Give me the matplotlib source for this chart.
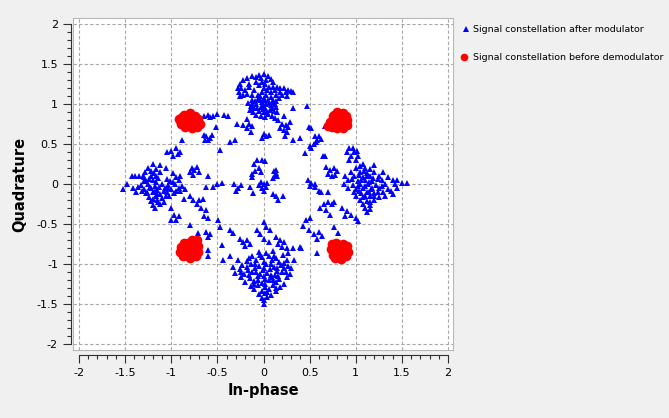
import numpy as np
import matplotlib.pyplot as plt
from matplotlib.lines import Line2D
from matplotlib.ticker import MultipleLocator, FuncFormatter

W, H = 669, 418

# blue points: constellation after modulator
blue_top = [
    (-0.28, 1.20), (-0.27, 1.15), (-0.25, 1.25), (-0.22, 1.30), (-0.18, 1.33), (-0.13, 1.35),
    (-0.08, 1.34), (-0.03, 1.33), (0.00, 1.38), (-0.05, 1.37), (0.03, 1.30), (0.02, 1.25),
    (0.00, 1.20), (-0.02, 1.15), (-0.06, 1.12), (-0.12, 1.12), (-0.18, 1.13), (-0.22, 1.12),
    (-0.25, 1.10), (-0.20, 1.18), (-0.16, 1.26), (-0.08, 1.28),
    (0.05, 1.35), (0.08, 1.32), (0.10, 1.28), (0.06, 1.22), (0.12, 1.18), (0.15, 1.22),
    (0.18, 1.16), (0.20, 1.12), (0.24, 1.15), (0.27, 1.18), (0.30, 1.17), (0.32, 1.15),
    (0.22, 1.20), (0.14, 1.12), (0.08, 1.15), (0.17, 1.08), (0.10, 1.05),
    (-0.17, 1.02), (-0.14, 0.98), (-0.12, 1.05), (-0.10, 0.95), (-0.08, 1.00), (-0.06, 1.07),
    (-0.05, 0.92), (-0.03, 0.97), (-0.02, 1.03), (0.00, 1.08), (0.00, 0.90), (0.02, 0.95),
    (0.03, 1.01), (0.05, 1.06), (0.05, 0.88), (0.07, 0.93), (0.08, 0.99), (0.10, 1.03),
    (0.11, 0.92), (0.13, 0.97), (-0.08, 0.87), (-0.03, 0.85), (0.02, 0.84), (-0.11, 0.90),
    (0.09, 0.86), (-0.15, 0.93), (0.14, 1.04), (-0.04, 1.10), (0.03, 1.12),
    (-0.13, 1.01), (-0.09, 1.04), (-0.01, 0.99), (0.06, 1.02), (0.12, 1.00), (-0.07, 0.96),
    (0.04, 0.91), (-0.01, 0.94), (0.09, 0.96), (-0.12, 0.95), (-0.04, 1.05), (0.01, 1.05),
    (-0.16, 1.22), (-0.10, 1.18), (-0.24, 1.20), (-0.05, 1.24), (0.04, 1.18), (0.10, 1.22),
    (0.18, 1.20), (0.25, 1.11), (-0.02, 1.28), (0.08, 1.09),
    (-0.18, 0.82), (-0.16, 0.75), (-0.13, 0.73), (-0.18, 0.70), (-0.14, 0.66), (-0.22, 0.74),
    (0.00, 0.63), (0.03, 0.60), (-0.02, 0.58), (0.06, 0.62), (0.12, 0.83), (0.16, 0.80),
    (0.20, 0.76), (0.24, 0.74), (0.18, 0.70), (0.22, 0.68), (0.27, 0.72), (0.29, 0.78),
    (0.25, 0.65), (0.23, 0.60), (0.32, 0.56), (0.22, 0.86), (0.15, 0.90),
]

blue_bottom = [
    (-0.05, -0.84), (0.03, -0.86), (0.10, -0.83),
    (-0.12, -0.90), (-0.02, -0.91), (0.06, -0.89), (0.14, -0.92), (0.21, -0.88),
    (-0.18, -0.96), (-0.08, -0.95), (0.01, -0.97), (0.09, -0.94), (0.17, -0.97), (0.25, -0.95),
    (-0.23, -1.01), (-0.14, -1.00), (-0.05, -1.02), (0.03, -1.00), (0.11, -1.03), (0.19, -1.01),
    (0.27, -1.02), (-0.26, -1.06), (-0.17, -1.07), (-0.09, -1.05), (-0.01, -1.07), (0.07, -1.06),
    (0.15, -1.08), (0.22, -1.05), (-0.31, -1.11), (-0.21, -1.12), (-0.12, -1.10), (-0.04, -1.12),
    (0.04, -1.11), (0.12, -1.13), (0.20, -1.10), (0.29, -1.12), (-0.24, -1.16), (-0.15, -1.17),
    (-0.06, -1.15), (0.02, -1.18), (0.09, -1.16), (0.17, -1.18), (0.25, -1.16),
    (-0.20, -1.22), (-0.10, -1.21), (-0.02, -1.23), (0.06, -1.20), (0.14, -1.22), (0.22, -1.24),
    (-0.14, -1.27), (-0.06, -1.26), (0.02, -1.28), (0.10, -1.26), (0.18, -1.28),
    (-0.10, -1.31), (-0.02, -1.33), (0.06, -1.31), (0.13, -1.33),
    (-0.05, -1.37), (0.02, -1.36), (0.08, -1.38), (-0.02, -1.42), (0.04, -1.41),
    (0.00, -1.45), (0.00, -1.50),
    (-0.09, -0.99), (0.00, -1.04), (0.08, -1.00), (0.15, -1.04), (-0.18, -1.03), (-0.08, -1.09),
    (0.00, -1.14), (0.08, -1.13), (0.16, -1.14), (-0.16, -1.13), (-0.06, -1.19), (0.10, -1.19),
    (0.02, -1.24), (-0.10, -1.25), (0.14, -1.30), (-0.04, -0.88), (0.11, -0.90), (0.22, -0.98),
    (-0.24, -1.09), (0.04, -1.34), (0.24, -1.09),
    (-0.07, -0.57), (0.01, -0.47), (0.07, -0.57), (0.03, -0.53), (-0.04, -0.62), (0.00, -0.68),
    (0.06, -0.72), (-0.25, -0.68), (-0.22, -0.72), (-0.18, -0.70), (-0.20, -0.77), (-0.15, -0.75),
    (-0.16, -0.92), (0.14, -0.66), (0.18, -0.70), (0.16, -0.74), (0.22, -0.72), (0.20, -0.78),
    (0.25, -0.80), (0.27, -0.86), (0.32, -0.80), (0.40, -0.78), (-0.33, -1.03), (-0.28, -0.95),
    (0.30, -1.05), (0.33, -0.95),
]

blue_left = [
    (-1.52, -0.06), (-1.48, 0.01), (-1.43, 0.10), (-1.39, 0.10), (-1.35, 0.10), (-1.31, 0.10),
    (-1.41, -0.05), (-1.36, -0.03), (-1.32, -0.08), (-1.38, -0.10),
    (-1.20, 0.26), (-1.12, 0.24), (-1.25, 0.20), (-1.16, 0.19), (-1.06, 0.21),
    (-1.28, 0.15), (-1.19, 0.14), (-1.12, 0.16), (-0.98, 0.14),
    (-1.30, 0.09), (-1.22, 0.10), (-1.14, 0.08), (-0.95, 0.09), (-0.90, 0.11),
    (-1.27, 0.04), (-1.20, 0.05), (-1.01, 0.04), (-0.92, 0.05),
    (-1.33, -0.01), (-1.25, 0.00), (-1.18, -0.02), (-1.10, 0.01), (-1.03, -0.01), (-0.96, 0.00),
    (-0.88, -0.02), (-1.29, -0.06), (-1.22, -0.05), (-1.15, -0.07), (-1.07, -0.05), (-1.00, -0.06),
    (-0.92, -0.04), (-0.85, -0.06), (-1.27, -0.11), (-1.20, -0.10), (-1.12, -0.12), (-1.05, -0.10),
    (-0.97, -0.11), (-1.24, -0.16), (-1.17, -0.15), (-1.10, -0.17), (-1.02, -0.15),
    (-1.22, -0.21), (-1.15, -0.20), (-1.08, -0.22), (-1.20, -0.26), (-1.12, -0.25), (-1.18, -0.30),
    (-1.24, 0.07), (-1.16, 0.03), (-1.05, 0.07), (-0.98, 0.03), (-1.23, -0.03), (-1.13, -0.03),
    (-1.04, -0.04), (-0.95, -0.08), (-1.18, -0.08), (-1.08, -0.08), (-1.15, -0.12), (-1.06, -0.14),
    (-1.20, -0.18), (-1.14, -0.22), (-1.22, 0.17), (-1.16, 0.11), (-1.30, 0.04), (-1.26, -0.09),
    (-0.90, -0.08),
]

blue_right = [
    (0.93, 0.45), (0.97, 0.46), (0.90, 0.40), (0.98, 0.40), (1.01, 0.42), (0.95, 0.35),
    (1.02, 0.36), (0.93, 0.30), (1.00, 0.31), (1.08, 0.26), (1.20, 0.24),
    (1.00, 0.20), (1.10, 0.21), (1.15, 0.19), (0.95, 0.15), (1.05, 0.16), (1.12, 0.14),
    (1.20, 0.15), (1.30, 0.16), (0.88, 0.10), (0.98, 0.11), (1.08, 0.09), (1.15, 0.10),
    (1.25, 0.11), (1.35, 0.09), (0.92, 0.05), (1.02, 0.04), (1.10, 0.06), (1.18, 0.04),
    (1.28, 0.05), (1.40, 0.05), (1.45, 0.06), (0.87, 0.00), (0.97, -0.01), (1.05, 0.01),
    (1.13, 0.00), (1.22, -0.01), (1.32, 0.01), (1.42, 0.00), (1.50, 0.02), (1.55, 0.02),
    (0.92, -0.05), (1.00, -0.06), (1.08, -0.04), (1.16, -0.06), (1.25, -0.05), (1.35, -0.06),
    (1.45, -0.04), (0.98, -0.10), (1.06, -0.11), (1.12, -0.09), (1.20, -0.11), (1.30, -0.10),
    (1.40, -0.12), (1.00, -0.15), (1.08, -0.16), (1.15, -0.14), (1.25, -0.16), (1.32, -0.15),
    (1.05, -0.20), (1.12, -0.21), (1.20, -0.19), (1.08, -0.25), (1.15, -0.26), (1.10, -0.30),
    (1.15, -0.31), (1.12, -0.35),
    (1.03, 0.12), (1.12, 0.11), (1.19, 0.08), (0.96, 0.07), (1.06, 0.05), (1.14, 0.03),
    (1.24, 0.07), (1.02, -0.02), (1.10, -0.02), (1.18, -0.04), (1.28, -0.02), (1.04, -0.08),
    (1.14, -0.10), (1.24, -0.09), (1.10, -0.14), (1.20, -0.15), (1.15, -0.22), (1.09, 0.17),
    (1.05, 0.23), (1.38, -0.08),
]

blue_ring = [
    (-1.00, 0.42), (-0.95, 0.45), (-0.93, 0.38), (-0.98, 0.36), (-0.90, 0.41), (-1.05, 0.40),
    (-0.88, 0.55), (-0.62, 0.60), (-0.58, 0.58), (-0.56, 0.62), (-0.60, 0.55), (-0.65, 0.62),
    (-0.63, 0.56), (-0.65, 0.85), (-0.60, 0.87), (-0.55, 0.86), (-0.50, 0.88), (-0.43, 0.87),
    (-0.38, 0.86), (-0.58, 0.84), (-0.51, 0.72), (-0.47, 0.43), (-0.36, 0.53), (-0.31, 0.55),
    (-0.29, 0.76),
    (0.50, 0.48), (0.55, 0.50), (0.58, 0.55), (0.60, 0.60), (0.62, 0.57), (0.56, 0.60),
    (0.52, 0.45), (0.57, 0.53), (0.49, 0.72), (0.52, 0.70), (0.67, 0.73), (0.45, 0.39),
    (0.64, 0.35), (0.32, 0.96), (0.47, 0.98), (0.40, 0.58),
    (-1.00, -0.30), (-0.97, -0.38), (-0.95, -0.45), (-0.92, -0.40), (-1.00, -0.45),
    (-0.86, -0.18), (-0.80, -0.15), (-0.76, -0.20), (-0.70, -0.20), (-0.66, -0.18), (-0.72, -0.24),
    (-0.68, -0.30), (-0.62, -0.32), (-0.65, -0.40), (-0.60, -0.42), (-0.80, -0.51), (-0.71, -0.61),
    (-0.62, -0.60), (-0.58, -0.62), (-0.60, -0.66), (-0.60, -0.82), (-0.60, -0.90), (-0.49, -0.45),
    (-0.47, -0.53), (-0.45, -0.76), (-0.36, -0.57), (-0.33, -0.61), (-0.36, -0.90), (-0.44, -0.94),
    (0.43, -0.52), (0.46, -0.45), (0.50, -0.42), (0.55, -0.62), (0.60, -0.60), (0.58, -0.68),
    (0.63, -0.65), (0.58, -0.86), (0.66, -0.25), (0.70, -0.22), (0.74, -0.25), (0.68, -0.32),
    (0.72, -0.38), (0.76, -0.53), (0.85, -0.30), (0.90, -0.33), (0.95, -0.38), (1.00, -0.42),
    (1.02, -0.46), (0.88, -0.40), (0.81, -0.61), (0.49, -0.57), (0.41, -0.80), (0.61, -0.30),
    (0.62, -0.09), (0.70, -0.10), (0.76, -0.22),
]

blue_inner = [
    (-0.10, 0.25), (-0.07, 0.30), (-0.02, 0.31), (0.02, 0.29), (-0.05, 0.21), (-0.09, 0.17),
    (-0.03, 0.15), (-0.13, 0.13), (-0.12, 0.09), (0.11, 0.17), (0.14, 0.18), (0.12, 0.11),
    (0.15, 0.10), (0.13, 0.14), (0.10, 0.08), (-0.03, 0.03), (0.00, 0.00), (0.03, -0.03),
    (-0.02, -0.05), (0.01, -0.08), (0.04, 0.02), (-0.05, -0.01), (0.10, -0.12), (0.14, -0.15),
    (0.16, -0.20), (0.21, -0.15), (-0.11, -0.11), (-0.15, -0.03), (-0.32, 0.00), (-0.28, -0.05),
    (-0.30, -0.08), (-0.24, -0.01), (-0.50, 0.00), (-0.45, 0.02), (-0.55, -0.03), (-0.60, 0.10),
    (-0.62, -0.03), (-0.78, 0.20), (-0.75, 0.18), (-0.72, 0.22), (-0.80, 0.15), (-0.70, 0.15),
    (-0.76, 0.12), (0.48, 0.05), (0.52, 0.02), (0.56, -0.03), (0.60, -0.08), (0.50, -0.02),
    (0.56, 0.00), (0.68, 0.22), (0.72, 0.18), (0.76, 0.20), (0.80, 0.17), (0.70, 0.13),
    (0.74, 0.10), (0.78, 0.12), (0.67, 0.35),
]

# red points: constellation before demodulator
red_tl = [
    (-0.80, 0.80), (-0.88, 0.84), (-0.91, 0.80), (-0.89, 0.75), (-0.85, 0.72), (-0.78, 0.71),
    (-0.72, 0.72), (-0.69, 0.76), (-0.71, 0.82), (-0.74, 0.86), (-0.80, 0.89), (-0.86, 0.87),
    (-0.83, 0.78), (-0.76, 0.78), (-0.82, 0.85), (-0.87, 0.79), (-0.75, 0.83), (-0.79, 0.74),
    (-0.92, 0.82), (-0.71, 0.77), (-0.84, 0.82), (-0.78, 0.84), (-0.76, 0.74), (-0.86, 0.76),
    (-0.81, 0.76), (-0.73, 0.80),
]
red_tr = [
    (0.82, 0.82), (0.76, 0.87), (0.80, 0.90), (0.86, 0.89), (0.89, 0.86), (0.91, 0.80),
    (0.90, 0.74), (0.86, 0.71), (0.80, 0.70), (0.74, 0.72), (0.70, 0.73), (0.72, 0.78),
    (0.77, 0.80), (0.84, 0.76), (0.88, 0.83), (0.80, 0.75), (0.75, 0.85), (0.85, 0.86),
    (0.79, 0.85), (0.84, 0.80), (0.78, 0.78), (0.87, 0.78), (0.82, 0.87), (0.76, 0.76),
    (0.83, 0.73),
]
red_bl = [
    (-0.80, -0.80), (-0.86, -0.73), (-0.89, -0.78), (-0.90, -0.85), (-0.87, -0.90), (-0.80, -0.92),
    (-0.73, -0.89), (-0.71, -0.84), (-0.71, -0.77), (-0.72, -0.70), (-0.77, -0.69), (-0.82, -0.73),
    (-0.76, -0.76), (-0.84, -0.86), (-0.76, -0.86), (-0.85, -0.79), (-0.80, -0.88), (-0.75, -0.81),
    (-0.84, -0.83), (-0.78, -0.83), (-0.80, -0.76), (-0.88, -0.82), (-0.73, -0.80), (-0.82, -0.90),
]
red_br = [
    (0.82, -0.83), (0.74, -0.75), (0.79, -0.73), (0.86, -0.74), (0.90, -0.77), (0.92, -0.84),
    (0.89, -0.90), (0.84, -0.93), (0.78, -0.92), (0.75, -0.88), (0.73, -0.81), (0.77, -0.78),
    (0.87, -0.80), (0.85, -0.87), (0.79, -0.87), (0.81, -0.77), (0.75, -0.84), (0.89, -0.85),
    (0.78, -0.80), (0.86, -0.83), (0.82, -0.89), (0.82, -0.76), (0.76, -0.87), (0.89, -0.81),
]

legend_labels = ["Signal constellation after modulator", "Signal constellation before demodulator"]

blue = np.array(blue_top + blue_bottom + blue_left + blue_right + blue_ring + blue_inner)
red = np.array(red_tl + red_tr + red_bl + red_br)

fig = plt.figure(figsize=(W / 100, H / 100), dpi=100, facecolor='#f0f0f0')
rect = [73 / W, (H - 350) / H, 380 / W, 332 / H]
xlim = (-2.065, 2.054)
ylim = (-2.071, 2.079)

# canvas with grid
ax = fig.add_axes(rect)
ax.set_facecolor('white')
ax.set_xlim(*xlim)
ax.set_ylim(*ylim)
ax.xaxis.set_major_locator(MultipleLocator(0.5))
ax.yaxis.set_major_locator(MultipleLocator(0.5))
ax.tick_params(length=0, labelbottom=False, labelleft=False)
ax.grid(True, color='#a8a8a8', lw=0.8, ls=(0, (3, 2)))
for s in ax.spines.values():
    s.set_color('#b8b8b8')
    s.set_linewidth(0.8)

ax.plot(blue[:, 0], blue[:, 1], ls='none', marker='^', ms=4.8, mew=0, color='#0000ff')
ax.plot(red[:, 0], red[:, 1], ls='none', marker='o', ms=7.0, mew=0, color='#ff0000')

# detached scales like the original widget
sc = fig.add_axes(rect)
sc.patch.set_visible(False)
sc.set_xlim(*xlim)
sc.set_ylim(*ylim)
sc.spines['top'].set_visible(False)
sc.spines['right'].set_visible(False)
sc.spines['left'].set_position(('outward', 1.5))
sc.spines['bottom'].set_position(('outward', 3.6))
sc.spines['left'].set_bounds(-2, 2)
sc.spines['bottom'].set_bounds(-2, 2)
for k in ('left', 'bottom'):
    sc.spines[k].set_color('#303030')
    sc.spines[k].set_linewidth(0.8)
fmt = FuncFormatter(lambda v, p: '%g' % (0 if abs(v) < 1e-9 else v))
for axis in (sc.xaxis, sc.yaxis):
    axis.set_major_locator(MultipleLocator(0.5))
    axis.set_minor_locator(MultipleLocator(0.1))
    axis.set_major_formatter(fmt)
sc.tick_params(which='major', direction='out', length=5.8, width=0.8, color='#303030',
               labelsize=8, pad=3.5)
sc.tick_params(which='minor', direction='out', length=2.9, width=0.8, color='#303030')

fig.text(263 / W, 1 - 390 / H, 'In-phase', ha='center', va='center',
         fontsize=10.5, fontweight='bold')
fig.text(20 / W, 1 - 184 / H, 'Quadrature', ha='center', va='center', rotation=90,
         fontsize=10.5, fontweight='bold')

# legend
fig.add_artist(Line2D([466 / W], [1 - 29 / H], ls='none', marker='^', ms=4.4, mew=0,
                      color='#0000ff'))
fig.add_artist(Line2D([464 / W], [1 - 57 / H], ls='none', marker='o', ms=5.5, mew=0,
                      color='#ff0000'))
fig.text(473 / W, 1 - 29 / H, legend_labels[0], ha='left', va='center', fontsize=6.8)
fig.text(473 / W, 1 - 57 / H, legend_labels[1], ha='left', va='center', fontsize=6.8)

fig.savefig('out.png', dpi=100, facecolor=fig.get_facecolor())
